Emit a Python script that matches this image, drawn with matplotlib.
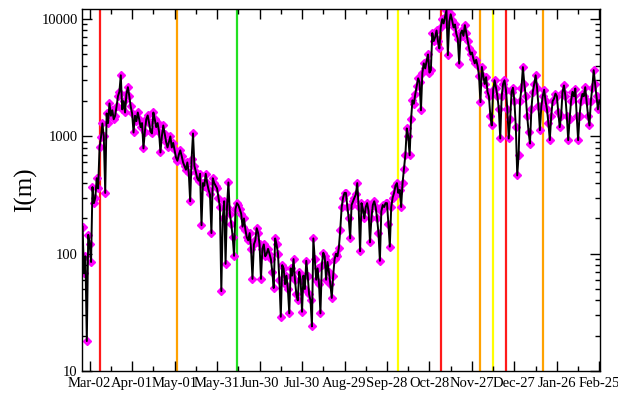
import numpy as np
import pandas as pd
import matplotlib
matplotlib.use("Agg")
import matplotlib.pyplot as plt
import matplotlib.dates as mdates
from matplotlib.ticker import LogLocator, NullFormatter, FixedLocator

plt.rcParams['font.family'] = ['Liberation Serif', 'DejaVu Serif']

# daily values of I(m), starting 2020-02-26
start_date = "2020-02-26"
values = [
    170, 68, 95, 18, 145,
    120, 85, 370, 270, 300, 440, 360,
    810, 980, 1290, 1000, 330, 1570, 1300,
    1910, 1500, 1670, 1400, 1500, 1800, 2200,
    2400, 3320, 1700, 2000, 1600, 2300, 2630,
    2200, 1800, 1570, 1080, 1500, 1350, 1600,
    1400, 1200, 1300, 790, 1100, 1400, 1510,
    1300, 1100, 1060, 1600, 1400, 1200, 1300,
    1100, 730, 1000, 1240, 1050, 900, 805,
    900, 1000, 805, 880, 760, 660, 620,
    700, 760, 680, 600, 560, 520, 600,
    490, 280, 640, 1060, 560, 500, 440,
    420, 480, 175, 400, 380, 480, 400,
    350, 320, 150, 440, 400, 380, 360,
    300, 250, 48, 200, 280, 82, 250,
    405, 220, 180, 140, 96, 240, 270,
    260, 240, 220, 170, 200, 160, 138,
    130, 150, 110, 61, 120, 130, 165,
    150, 120, 61, 110, 120, 95, 100,
    110, 100, 90, 70, 51, 135, 120,
    100, 60, 29, 80, 75, 55, 65,
    50, 31, 75, 65, 90, 60, 45,
    40, 70, 60, 32, 65, 50, 87,
    65, 45, 40, 24, 135, 90, 60,
    75, 55, 31, 80, 102, 95, 60,
    85, 70, 55, 42, 65, 90, 100,
    95, 112, 160, 250, 300, 330, 330,
    250, 200, 135, 260, 280, 300, 320,
    400, 250, 105, 270, 240, 200, 250,
    270, 230, 125, 200, 260, 280, 250,
    200, 150, 87, 230, 260, 250, 270,
    270, 180, 115, 250, 300, 330, 380,
    400, 330, 350, 250, 400, 530, 700,
    1170, 1000, 690, 1400, 2030, 1900, 2300,
    2700, 3130, 2900, 1670, 3500, 4200, 3800,
    4400, 5000, 3500, 3670, 7600, 6500, 7000,
    8000, 6500, 5620, 8500, 10000, 9200, 10500,
    11900, 4930, 9500, 11000, 9800, 8500, 9000,
    7500, 6800, 4180, 7500, 8000, 7200, 8890,
    7600, 6500, 5620, 5000, 5200, 4600, 4200,
    4500, 4000, 3300, 1960, 3910, 3300, 2800,
    3200, 2400, 2200, 1500, 1240, 2500, 3010,
    2600, 2200, 1700, 960, 2200, 2800, 3010,
    2500, 1700, 960, 1400, 2400, 2600, 2000,
    1200, 465, 700, 2000, 2600, 3900, 2800,
    2200, 1500, 1100, 870, 1700, 2400, 2800,
    3320, 2600, 1800, 1130, 1800, 2200, 2500,
    2000, 1700, 1300, 930, 1500, 2000, 2100,
    2320, 2200, 1600, 1200, 1500, 2400, 2720,
    2200, 1500, 930, 1400, 2000, 2400, 2200,
    2560, 1500, 930, 1500, 2000, 2300, 2200,
    2630, 2000, 1500, 1240, 2000, 2600, 3670,
    2800, 2200, 1700, 2030,
]

tick_labels = ["Mar-02", "Apr-01", "May-01", "May-31", "Jun-30", "Jul-30",
               "Aug-29", "Sep-28", "Oct-28", "Nov-27", "Dec-27", "Jan-26", "Feb-25"]
tick_dates = ["2020-03-02", "2020-04-01", "2020-05-01", "2020-05-31", "2020-06-30",
              "2020-07-30", "2020-08-29", "2020-09-28", "2020-10-28", "2020-11-27",
              "2020-12-27", "2021-01-26", "2021-02-25"]

event_dates = ["2020-03-09", "2020-05-03", "2020-06-14", "2020-10-06", "2020-11-05",
               "2020-12-03", "2020-12-12", "2020-12-21", "2021-01-16"]
event_colors = ["#ff1a1a", "#ffa200", "#22e022", "#ffff00", "#ff1a1a",
                "#ffa200", "#ffff00", "#ff1a1a", "#ffa200"]

dates = pd.date_range(start_date, periods=len(values), freq="D")
tick_x = mdates.date2num(pd.to_datetime(tick_dates))
minor_x = (tick_x[:-1] + tick_x[1:]) / 2.0

fig = plt.figure(figsize=(6.18, 3.93), dpi=100)
ax = fig.add_axes([82 / 618, 22 / 393, (599.5 - 82) / 618, (371 - 9) / 393])

for d, c in zip(event_dates, event_colors):
    ax.axvline(pd.Timestamp(d), color=c, lw=1.6, zorder=1)

ax.plot(dates, values, linestyle="none", marker="D", ms=4.2,
        mfc="#ff00ff", mec="#ff00ff", zorder=2)
ax.plot(dates, values, color="black", lw=1.4, zorder=3)

ax.set_yscale("log")
ax.set_ylim(10, 12200)
ax.set_xlim(mdates.date2num(pd.Timestamp("2020-02-26")) - 0.4,
            mdates.date2num(pd.Timestamp("2021-02-25")) + 0.1)

ax.xaxis.set_major_locator(FixedLocator(tick_x))
ax.xaxis.set_minor_locator(FixedLocator(minor_x))
ax.set_xticklabels(tick_labels)
ax.yaxis.set_minor_locator(LogLocator(base=10, subs=np.arange(2, 10), numticks=100))
ax.yaxis.set_minor_formatter(NullFormatter())
ax.set_yticks([10, 100, 1000, 10000])
ax.set_yticklabels(["10", "100", "1000", "10000"])

ax.tick_params(which="both", direction="in", top=True, right=True,
               labelsize=10.5, color="black", width=1.0)
ax.tick_params(which="major", length=7.2)
ax.tick_params(axis="x", which="major", pad=4.5)
ax.tick_params(axis="y", which="major", pad=3)
ax.tick_params(which="minor", length=3.6)
for s in ax.spines.values():
    s.set_linewidth(1.0)
    s.set_color("black")

fig.text(26 / 618, 1 - 190 / 393, "I(m)", rotation=90, fontsize=18,
         ha="center", va="center")

fig.savefig("out.png", dpi=100)
